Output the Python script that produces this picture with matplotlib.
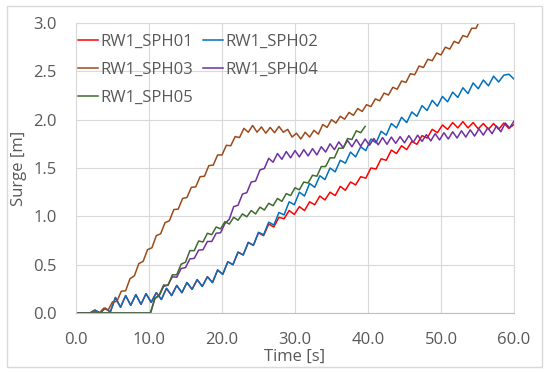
import numpy as np
import matplotlib.pyplot as plt
from matplotlib.patches import Rectangle

dt_slow = 0.7
dt_fast = 0.6

sph02_t0 = 1.9
sph02 = [0.00, 0.03, 0.00, 0.05, 0.01, 0.16, 0.06, 0.18, 0.08, 0.19,
         0.09, 0.20, 0.11, 0.21, 0.14, 0.255, 0.18, 0.285, 0.21, 0.315,
         0.245, 0.345, 0.275, 0.375, 0.315, 0.445, 0.40, 0.53, 0.50, 0.63,
         0.60, 0.73, 0.70, 0.835, 0.81, 0.94, 0.91, 1.04, 1.015, 1.15,
         1.12, 1.25, 1.21, 1.34, 1.30, 1.42, 1.38, 1.50, 1.46, 1.58,
         1.55, 1.665, 1.615, 1.72, 1.68, 1.80, 1.76, 1.88, 1.84, 1.96,
         1.915, 2.025, 1.97, 2.08, 2.035, 2.145, 2.095, 2.20, 2.14, 2.24,
         2.185, 2.285, 2.23, 2.33, 2.27, 2.38, 2.32, 2.41, 2.35, 2.45,
         2.39, 2.46, 2.47, 2.42]

sph01_t0 = 1.9
sph01 = [0.00, 0.03, 0.00, 0.05, 0.01, 0.16, 0.06, 0.18, 0.08, 0.19,
         0.09, 0.20, 0.11, 0.21, 0.14, 0.255, 0.18, 0.285, 0.21, 0.315,
         0.245, 0.345, 0.275, 0.375, 0.315, 0.445, 0.40, 0.53, 0.50, 0.63,
         0.60, 0.73, 0.70, 0.83, 0.80,
         0.92, 0.89, 0.99, 0.975, 1.06, 1.02, 1.10, 1.06, 1.15, 1.12,
         1.21, 1.17, 1.25, 1.215, 1.31, 1.27, 1.355, 1.325, 1.41, 1.395,
         1.50, 1.49, 1.595, 1.58, 1.685, 1.65, 1.73, 1.69, 1.775, 1.745,
         1.835, 1.81, 1.90, 1.865, 1.945, 1.90, 1.97, 1.915, 1.98, 1.915,
         1.97, 1.905, 1.96, 1.90, 1.96, 1.90, 1.965, 1.91, 1.95]

sph03_t0 = 2.0
sph03 = [0.00, 0.02, 0.00, 0.05, 0.03,
         0.115, 0.12, 0.225, 0.23, 0.355, 0.385, 0.51, 0.535, 0.655, 0.675,
         0.80, 0.82, 0.935, 0.955, 1.07, 1.075, 1.185, 1.195, 1.30, 1.305,
         1.41, 1.415, 1.525, 1.53, 1.635, 1.635, 1.735, 1.73, 1.825, 1.815,
         1.91, 1.87, 1.94, 1.87, 1.925, 1.86, 1.92, 1.865, 1.93, 1.87,
         1.90, 1.82, 1.86, 1.80, 1.87, 1.82, 1.89, 1.85, 1.95, 1.92,
         2.00, 1.965, 2.035, 2.005, 2.075, 2.045, 2.115, 2.085, 2.155, 2.135,
         2.215, 2.195, 2.275, 2.255, 2.335, 2.315, 2.40, 2.385, 2.475, 2.465,
         2.555, 2.54, 2.625, 2.61, 2.69, 2.67, 2.75, 2.73, 2.81, 2.79,
         2.87, 2.855, 2.945, 2.945, 3.045, 3.035]

sph04_t0 = 10.2
sph04 = [0.00, 0.15, 0.18, 0.275, 0.29, 0.375, 0.37, 0.46, 0.47, 0.56,
         0.565, 0.65, 0.655, 0.74, 0.74, 0.825, 0.83, 0.925, 0.97, 1.10,
         1.115, 1.23, 1.245, 1.355, 1.365, 1.48, 1.495, 1.60, 1.56, 1.65,
         1.59, 1.67, 1.605, 1.68, 1.615, 1.69, 1.625, 1.70, 1.635, 1.72,
         1.665, 1.75, 1.69, 1.77, 1.71, 1.785, 1.72, 1.795, 1.725, 1.80,
         1.735, 1.805, 1.74, 1.815, 1.745, 1.82, 1.755, 1.825, 1.76, 1.835,
         1.765, 1.84, 1.775, 1.845, 1.78, 1.855, 1.79, 1.865, 1.80, 1.875,
         1.81, 1.885, 1.82, 1.895, 1.83, 1.905, 1.84, 1.915, 1.855, 1.935,
         1.875, 1.965, 1.915, 1.985]

sph05_t0 = 10.2
sph05 = [0.00, 0.15, 0.185, 0.29, 0.285, 0.395, 0.395, 0.505, 0.525, 0.645,
         0.645, 0.745, 0.735, 0.825, 0.81, 0.89, 0.87, 0.945, 0.92, 0.99,
         0.96, 1.025, 0.995, 1.06, 1.025, 1.095, 1.065, 1.135, 1.11, 1.185,
         1.155, 1.235, 1.215, 1.295, 1.275, 1.355, 1.345, 1.425, 1.415, 1.515,
         1.515, 1.605, 1.605, 1.705, 1.705, 1.805, 1.795, 1.885, 1.865, 1.93]

labels = ["RW1_SPH01", "RW1_SPH02", "RW1_SPH03", "RW1_SPH04", "RW1_SPH05"]
colors = ["#ff0000", "#0070c0", "#9c4a1a", "#7030a0", "#3e6b2e"]


def series(t0, step, vals):
    # every record sits at 0 before its first sample
    t = np.concatenate([[0.0], t0 + step * np.arange(len(vals))])
    v = np.concatenate([[0.0], vals])
    return t, v


plt.rcParams['font.family'] = ['Open Sans', 'DejaVu Sans']
txt = "#595959"
grid = "#d9d9d9"

fig = plt.figure(figsize=(5.5, 3.73), dpi=100)
ax = fig.add_axes([76 / 550, 1 - 313 / 373, 438 / 550, 290 / 373])

data = [(sph01_t0, dt_slow, sph01), (sph02_t0, dt_slow, sph02),
        (sph03_t0, dt_fast, sph03), (sph04_t0, dt_fast, sph04),
        (sph05_t0, dt_fast, sph05)]
lines = []
for (t0, step, vals), lab, col in zip(data, labels, colors):
    t, v = series(t0, step, vals)
    ln, = ax.plot(t, v, color=col, lw=1.1, label=lab, solid_joinstyle='round')
    lines.append(ln)

ax.set_xlim(0, 60)
ax.set_ylim(0, 3.0)
ax.set_xticks(np.arange(0, 61, 10))
ax.set_yticks(np.arange(0, 3.01, 0.5))
ax.xaxis.set_major_formatter(plt.FormatStrFormatter('%.1f'))
ax.yaxis.set_major_formatter(plt.FormatStrFormatter('%.1f'))
ax.tick_params(length=0, labelsize=12, labelcolor=txt)
ax.tick_params(axis='x', pad=14)
ax.tick_params(axis='y', pad=14)
ax.grid(True, color=grid, lw=0.8)
ax.set_axisbelow(True)
for s in ax.spines.values():
    s.set_color(grid)
    s.set_linewidth(0.8)
ax.spines['bottom'].set_color("#bfbfbf")

ax.set_xlabel("Time [s]", fontsize=12, color=txt, labelpad=0)
ax.set_ylabel("Surge [m]", fontsize=12, color=txt, labelpad=4)

# row-wise legend: matplotlib fills columns, so reorder
order = [0, 2, 4, 1, 3]
ax.legend([lines[i] for i in order], [labels[i] for i in order],
          ncol=2, loc='upper left', bbox_to_anchor=(0.0, 0.97), frameon=False,
          fontsize=12, handlelength=1.2, handletextpad=0.15, columnspacing=0.6,
          labelspacing=0.72, borderaxespad=0.0, borderpad=0.1, labelcolor=txt)

fig.patches.append(Rectangle((7 / 550, 1 - 367 / 373), 535 / 550, 361 / 373,
                             transform=fig.transFigure, fill=False,
                             edgecolor=grid, lw=1))

fig.savefig("out.png", dpi=100)
